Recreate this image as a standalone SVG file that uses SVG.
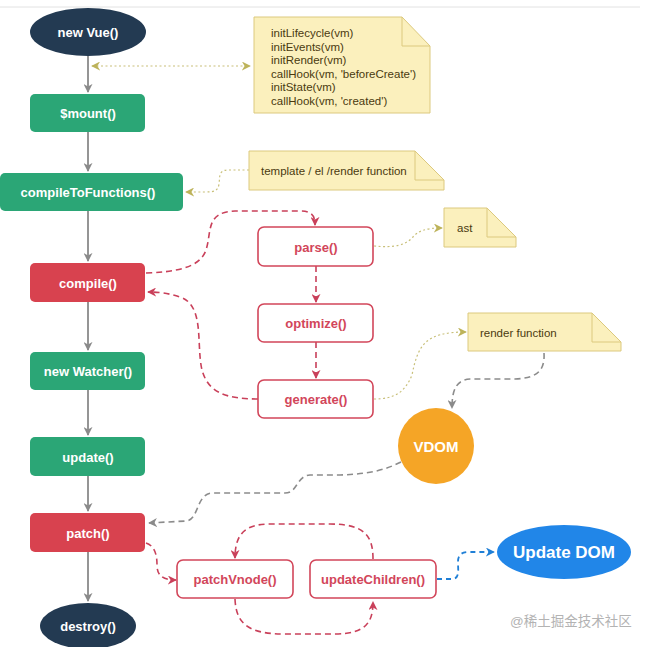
<svg xmlns="http://www.w3.org/2000/svg" width="649" height="647" viewBox="0 0 649 647">
<defs>
<style>
.bt{font-family:"Liberation Sans",Arial,sans-serif;font-weight:bold;font-size:13px;text-anchor:middle;dominant-baseline:central}
.w{fill:#fff}
.rt{fill:#d2465a}
.nt{font-family:"Liberation Sans",Arial,sans-serif;font-size:11.5px;fill:#4a3a10}
.note{fill:#fbf0bd;stroke:#dcc97e;stroke-width:1}
.fold{fill:none;stroke:#dcc97e;stroke-width:1}
.green{fill:#2ba676}
.red{fill:#d8424f}
.navy{fill:#233a52}
.ob{fill:#fff;stroke:#d2465a;stroke-width:1.6}
.solid{fill:none;stroke:#8a8a8a;stroke-width:1.8}
.rd{fill:none;stroke:#c9405a;stroke-width:1.6;stroke-dasharray:6 4}
.gd{fill:none;stroke:#8c8c8c;stroke-width:1.6;stroke-dasharray:6 4}
.yd{fill:none;stroke:#c9c07a;stroke-width:1.2;stroke-dasharray:2 2.5}
.bd{fill:none;stroke:#1f7fd6;stroke-width:1.8;stroke-dasharray:5 4}
</style>
<marker id="ag" viewBox="0 0 10 10" refX="9" refY="5" markerWidth="9" markerHeight="9" markerUnits="userSpaceOnUse" orient="auto-start-reverse"><path d="M0,0 L10,5 L0,10 L3,5 z" fill="#8a8a8a"/></marker>
<marker id="ar" viewBox="0 0 10 10" refX="9" refY="5" markerWidth="9" markerHeight="9" markerUnits="userSpaceOnUse" orient="auto-start-reverse"><path d="M0,0 L10,5 L0,10 L3,5 z" fill="#c9405a"/></marker>
<marker id="ay" viewBox="0 0 10 10" refX="9" refY="5" markerWidth="9" markerHeight="9" markerUnits="userSpaceOnUse" orient="auto-start-reverse"><path d="M0,0 L10,5 L0,10 L3,5 z" fill="#bdb35a"/></marker>
<marker id="ab" viewBox="0 0 10 10" refX="9" refY="5" markerWidth="9" markerHeight="9" markerUnits="userSpaceOnUse" orient="auto-start-reverse"><path d="M0,0 L10,5 L0,10 L3,5 z" fill="#1f7fd6"/></marker>
</defs>
<rect width="649" height="647" fill="#fff"/>
<line x1="0" y1="7" x2="640" y2="7" stroke="#e2e2e2" stroke-width="1"/>

<g id="connectors">
<path class="solid" d="M88,56 V92" marker-end="url(#ag)"/>
<path class="solid" d="M88,132 V171" marker-end="url(#ag)"/>
<path class="solid" d="M88,211 V261" marker-end="url(#ag)"/>
<path class="solid" d="M88,302 V350" marker-end="url(#ag)"/>
<path class="solid" d="M88,390 V435" marker-end="url(#ag)"/>
<path class="solid" d="M88,476 V511" marker-end="url(#ag)"/>
<path class="solid" d="M88,552 V601" marker-end="url(#ag)"/>
<path class="yd" d="M92,66 H250" marker-start="url(#ay)" marker-end="url(#ay)"/>
<path class="yd" d="M249,170 H228 C218,170 220,178 219,184 C218,191 214,192 205,192 H186" marker-end="url(#ay)"/>
<path class="rd" d="M146,273 C175,272 200,268 206,250 C212,232 205,212 235,211 H300 C312,211 315,216 315,225" marker-end="url(#ar)"/>
<path class="rd" d="M316,266 V302" marker-end="url(#ar)"/>
<path class="rd" d="M316,342 V378" marker-end="url(#ar)"/>
<path class="rd" d="M258,399 C225,399 208,392 202,370 C196,345 205,305 180,297 C168,293 158,292 148,292" marker-end="url(#ar)"/>
<path class="yd" d="M374,246 C395,248 405,245 412,238 C418,231 425,228 442,228" marker-end="url(#ay)"/>
<path class="yd" d="M374,399 C395,399 405,392 412,375 C418,345 425,332 466,332" marker-end="url(#ay)"/>
<path class="gd" d="M544,353 C545,370 538,378 515,379 H470 C455,380 452,392 452,408" marker-end="url(#ag)"/>
<path class="gd" d="M401,462 C385,470 370,474 340,475 H310 C296,476 298,493 285,493 H212 C196,494 199,520 186,521 L149,523" marker-end="url(#ag)"/>
<path class="rd" d="M146,543 C155,546 157,555 157,565 C157,575 162,580 176,580" marker-end="url(#ar)"/>
<path class="rd" d="M235,599 C236,625 250,634 285,634 H335 C366,634 373,622 373,602" marker-end="url(#ar)"/>
<path class="rd" d="M373,559 C373,536 365,524 330,524 H270 C245,524 235,534 235,558" marker-end="url(#ar)"/>
<path class="bd" d="M437,579 H452 C460,579 458,570 458,562 C458,554 462,552 470,552 H494" marker-end="url(#ab)"/>
</g>

<g id="n-newvue"><ellipse class="navy" cx="88" cy="32" rx="58" ry="24"/><text class="bt w" x="88" y="32">new Vue()</text></g>
<g id="n-mount"><rect class="green" x="30" y="94" width="115" height="38" rx="5"/><text class="bt w" x="88" y="113">$mount()</text></g>
<g id="n-ctf"><rect class="green" x="0" y="173" width="183" height="38" rx="5"/><text class="bt w" x="88" y="192">compileToFunctions()</text></g>
<g id="n-compile"><rect class="red" x="30" y="263" width="115" height="39" rx="5"/><text class="bt w" x="88" y="283">compile()</text></g>
<g id="n-watcher"><rect class="green" x="30" y="352" width="115" height="38" rx="5"/><text class="bt w" x="88" y="371">new Watcher()</text></g>
<g id="n-update"><rect class="green" x="30" y="437" width="115" height="39" rx="5"/><text class="bt w" x="88" y="457">update()</text></g>
<g id="n-patch"><rect class="red" x="30" y="513" width="115" height="39" rx="5"/><text class="bt w" x="88" y="533">patch()</text></g>
<g id="n-destroy"><ellipse class="navy" cx="88" cy="626" rx="48" ry="23"/><text class="bt w" x="88" y="626">destroy()</text></g>

<g id="n-parse"><rect class="ob" x="258" y="227" width="115" height="39" rx="6"/><text class="bt rt" x="316" y="247">parse()</text></g>
<g id="n-optimize"><rect class="ob" x="258" y="304" width="115" height="38" rx="6"/><text class="bt rt" x="316" y="323">optimize()</text></g>
<g id="n-generate"><rect class="ob" x="258" y="380" width="115" height="38" rx="6"/><text class="bt rt" x="316" y="399">generate()</text></g>
<g id="n-patchvnode"><rect class="ob" x="177" y="560" width="116" height="38" rx="6"/><text class="bt rt" x="235" y="579">patchVnode()</text></g>
<g id="n-updatechildren"><rect class="ob" x="310" y="560" width="126" height="38" rx="6"/><text class="bt rt" x="373" y="579">updateChildren()</text></g>

<g id="n-vdom"><circle cx="436" cy="446" r="38" fill="#f5a526"/><text class="bt w" x="436" y="446" style="font-size:15px">VDOM</text></g>
<g id="n-updatedom"><ellipse cx="564" cy="552" rx="67" ry="27" fill="#2186e8"/><text class="bt w" x="564" y="552" style="font-size:17px">Update DOM</text></g>

<g id="note-init">
<path class="note" d="M254,17 H402 L430,46 V113 H254 Z"/>
<path class="fold" d="M402,17 V46 H430"/>
<text class="nt" x="271" y="37">initLifecycle(vm)</text>
<text class="nt" x="271" y="50.5">initEvents(vm)</text>
<text class="nt" x="271" y="64">initRender(vm)</text>
<text class="nt" x="271" y="77.5">callHook(vm, 'beforeCreate')</text>
<text class="nt" x="271" y="91">initState(vm)</text>
<text class="nt" x="271" y="104.5">callHook(vm, 'created')</text>
</g>
<g id="note-template">
<path class="note" d="M249,151 H415 L444,180 V190 H249 Z"/>
<path class="fold" d="M415,151 V180 H444"/>
<text class="nt" x="261" y="175">template / el /render function</text>
</g>
<g id="note-ast">
<path class="note" d="M444,208 H487 L516,237 V247 H444 Z"/>
<path class="fold" d="M487,208 V237 H516"/>
<text class="nt" x="457" y="232">ast</text>
</g>
<g id="note-render">
<path class="note" d="M468,313 H592 L621,342 V351 H468 Z"/>
<path class="fold" d="M592,313 V342 H621"/>
<text class="nt" x="480" y="337">render function</text>
</g>

<text x="510" y="626" style="font-family:'Liberation Sans','Noto Sans CJK SC',sans-serif;font-size:13.5px;fill:#b3b3b3">@稀土掘金技术社区</text>
</svg>
